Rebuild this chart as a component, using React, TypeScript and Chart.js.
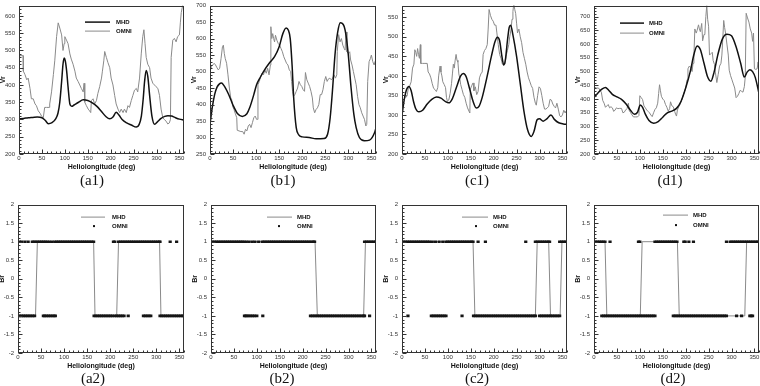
import React, { useEffect, useRef } from 'react';
import { Chart, registerables } from 'chart.js';
Chart.register(...registerables);
Chart.defaults.font.family = "'Liberation Sans', Arial, sans-serif";

// ---------------- tick labels ----------------
const xTickVals = [0, 50, 100, 150, 200, 250, 300, 350];
const vrTicksA1 = [200, 250, 300, 350, 400, 450, 500, 550, 600];
const vrTicksB1 = [250, 300, 350, 400, 450, 500, 550, 600, 650, 700];
const vrTicksC1 = [200, 250, 300, 350, 400, 450, 500, 550];
const vrTicksD1 = [200, 250, 300, 350, 400, 450, 500, 550, 600, 650, 700];
const brTicks = [-2, -1.5, -1, -0.5, 0, 0.5, 1, 1.5, 2];

// ---------------- Vr data: [heliolongitude, Vr] ----------------
const a1Mhd = [[0,302],[10,303],[20,305],[30,306],[40,307],[50,305],[57,298],[64,288],[72,291],[80,302],[85,318],[89,350],[93,410],[96,460],[98.5,478],[101,470],[104,440],[107,395],[111,345],[115,338],[120,342],[130,350],[140,357],[150,355],[160,348],[170,338],[180,323],[190,308],[198,302],[205,307],[212,321],[218,313],[225,300],[235,290],[245,284],[256,278],[262,285],[267,310],[271,360],[274,410],[277.5,442],[281,425],[285,370],[290,310],[296,286],[302,293],[310,303],[318,309],[325,311],[333,310],[340,306],[350,301],[360,298]];
const a1Omni = [[0,485],[9,485],[9.5,440],[13,430],[17,415],[20,420],[24,390],[27,360],[31,360],[35,345],[38,340],[42,325],[46,318],[49,310],[53,305],[56,335],[60,335],[66,335],[67,345],[71,380],[75,430],[78,470],[82,540],[85.5,580],[89,565],[93,545],[96,500],[98.5,520],[100,540],[103.6,530],[107,520],[111,490],[114,475],[118,460],[122,440],[125,420],[129,410],[132.6,400],[136,390],[140,380],[142,405],[143.5,350],[147,340],[151,330],[154,325],[156.5,320],[158,355],[161.6,360],[165,345],[169,355],[172,375],[176,395],[180,420],[182,440],[185,470],[187,497],[190.6,480],[194,465],[198,450],[201,420],[205,400],[208.7,370],[212,345],[216,330],[219.6,320],[223,330],[227,320],[230,330],[234,320],[237.7,340],[241,335],[245,355],[248.5,370],[252,385],[256,390],[259,380],[263,420],[266.7,490],[270,540],[272.5,560],[275,520],[277.5,480],[281,460],[285,450],[288,420],[292,405],[295.6,400],[299,395],[303,390],[306.5,370],[310,330],[313.8,305],[317,300],[321,295],[324.6,287],[328,290],[330.4,300],[332,480],[335.5,530],[339,535],[342.8,525],[346,540],[350,545],[352,580],[354,610],[357,630],[360,650]];

const b1Mhd = [[0,340],[5,392],[10,430],[15,452],[20,462],[25,465],[30,458],[40,432],[50,398],[60,372],[70,364],[80,372],[86,390],[95,430],[101,460],[110,485],[116,500],[130,528],[140,545],[150,575],[158,615],[165,632],[170,625],[174,600],[178,520],[181.5,420],[187,330],[192.5,308],[200,302],[215,300],[230,296],[247,297],[255,310],[260.6,360],[266,450],[271,550],[277,620],[282.6,648],[290,640],[295,610],[300,550],[306,450],[312,370],[317,330],[324,300],[335,290],[346,292],[357,315],[360,330]];
const b1Omni = [[0,500],[3,515],[6,520],[9,525],[12,520],[15,512],[18,505],[21,510],[24,540],[27,575],[29,580],[31,555],[33,540],[36,525],[39,490],[42,450],[45,420],[47,415],[49,395],[52,385],[55,372],[58,360],[59,322],[63,320],[67,318],[71,318],[74,310],[77,325],[80,320],[83,335],[86,340],[89,330],[92,345],[95,360],[98,365],[101,355],[103,355],[104,460],[107,470],[110,485],[113,495],[116,490],[119,505],[122,495],[125,510],[128,490],[131,520],[132,636],[134,600],[136,615],[138,600],[140,590],[142,610],[145,595],[148,585],[151,580],[154,570],[157,560],[160,545],[163,535],[166,525],[169,520],[172,505],[175,500],[177,470],[179,440],[181,425],[184,430],[187,440],[190,450],[193,470],[196,460],[199,455],[202,445],[205,440],[207,497],[210,475],[213,465],[216,455],[219,440],[222,420],[224,390],[227,375],[230,385],[233,390],[236,400],[239,430],[242,430],[245,445],[248,470],[251,485],[254,470],[257,478],[260,480],[263,475],[266,480],[269,490],[272,480],[275,490],[276,560],[279,612],[282,590],[285,600],[288,580],[291,570],[293,565],[295,620],[297,560],[300,555],[303,560],[305,535],[308,520],[311,500],[314,480],[317,460],[320,425],[323,400],[326,390],[329,375],[332,365],[335,355],[338,335],[340,340],[342,470],[345,530],[348,540],[350,550],[353,530],[356,520],[358,530],[360,535]];

const c1Mhd = [[0,300],[5,340],[10,365],[15,373],[20,362],[25,335],[30,316],[37,308],[45,312],[55,328],[65,340],[75,346],[85,343],[95,334],[102,331],[110,342],[120,375],[128,400],[134,406],[140,398],[148,365],[155,335],[162,318],[168,322],[175,345],[185,395],[195,450],[203,488],[208,499],[213,490],[218,450],[222,428],[226,445],[230,490],[234,525],[237,530],[242,505],[250,450],[258,380],[266,310],[274,262],[282,245],[288,258],[295,288],[300,290],[308,284],[316,290],[325,300],[333,288],[342,280],[352,277],[360,276]];
const c1Omni = [[0,350],[4,350],[8,345],[11,348],[14,370],[17,375],[20,385],[23,420],[26,430],[28,467],[30,460],[32,450],[34,470],[36,455],[38,445],[40,480],[41,432],[45,432],[50,432],[55,432],[57,410],[60,405],[63,395],[66,380],[69,368],[72,365],[75,360],[78,370],[80,400],[83,425],[85,410],[87,400],[89,385],[92,378],[95,370],[97,345],[99,335],[102,338],[105,355],[108,380],[110,405],[112,430],[114,420],[116,440],[118,455],[120,440],[122,435],[124,405],[126,395],[128,378],[131,365],[134,352],[137,345],[140,330],[143,318],[146,310],[148,305],[149,365],[152,375],[155,382],[157,362],[160,372],[163,352],[166,360],[169,395],[172,405],[175,410],[177,455],[180,465],[183,470],[186,480],[188,520],[190,570],[193,555],[196,545],[199,540],[202,530],[205,530],[207,510],[210,480],[213,455],[216,445],[219,430],[222,428],[225,430],[227,450],[230,465],[233,480],[235,500],[238,520],[240,545],[242,565],[244,585],[246,570],[248,560],[250,535],[252,510],[255,520],[258,500],[261,485],[264,460],[267,445],[270,430],[273,410],[276,395],[279,385],[282,375],[285,368],[288,345],[291,330],[293,325],[296,350],[299,372],[302,368],[305,350],[308,330],[311,315],[314,315],[317,318],[320,322],[323,340],[326,338],[329,328],[332,322],[335,318],[338,330],[341,315],[344,298],[347,295],[350,300],[353,312],[356,305],[358,310],[360,305]];

const d1Mhd = [[0,405],[10,425],[18,437],[25,442],[32,432],[40,417],[50,408],[60,399],[70,382],[80,358],[88,345],[95,352],[101,378],[106,370],[112,345],[120,322],[130,312],[140,318],[150,334],[160,350],[170,356],[180,366],[190,392],[200,440],[210,500],[218,562],[225,593],[232,580],[240,530],[248,480],[255,465],[262,498],[270,560],[280,618],[290,636],[300,630],[310,590],[320,530],[328,480],[334,498],[340,507],[346,500],[352,478],[360,420]];
const d1Omni = [[0,445],[5,440],[10,440],[13,432],[16,425],[19,395],[22,385],[25,370],[28,375],[31,380],[34,368],[37,372],[40,368],[43,355],[46,360],[49,368],[52,365],[56,366],[60,366],[63,350],[66,352],[69,360],[72,365],[75,385],[77,358],[80,350],[83,342],[86,335],[90,335],[95,335],[98,340],[100,412],[103,405],[106,398],[109,375],[112,368],[115,360],[118,355],[121,350],[124,342],[127,336],[130,350],[133,362],[136,368],[139,385],[141,420],[143,452],[145,430],[147,410],[150,400],[153,395],[156,380],[159,370],[162,356],[165,365],[167,390],[170,375],[173,372],[176,355],[178,345],[180,338],[182,360],[185,372],[188,380],[191,395],[194,410],[197,425],[200,440],[203,470],[205,510],[208,520],[211,515],[214,500],[216,530],[218,560],[220,655],[223,640],[225,650],[228,670],[230,655],[232,645],[235,675],[237,612],[240,635],[242,640],[244,700],[246,740],[248,690],[250,665],[252,560],[255,565],[258,570],[260,540],[263,525],[265,495],[268,460],[271,490],[274,520],[277,530],[279,560],[281,620],[283,686],[285,660],[287,640],[290,600],[293,560],[295,505],[298,485],[301,470],[304,455],[307,440],[310,405],[313,410],[316,420],[319,432],[322,428],[325,425],[328,445],[330,480],[332,712],[335,695],[338,680],[341,655],[344,640],[346,610],[348,640],[350,510],[353,508],[356,510],[358,535],[360,490]];

// ---------------- Br data ----------------
const a2MhdLon = [0, 38, 42, 164, 167, 214, 218, 307, 310, 360];
const a2MhdBr = [-1, -1, 1, 1, -1, -1, 1, 1, -1, -1];
const a2OmniPos = [3,8,15,22,31,35,39,43,47,51,55,59,63,68,74,80,84,88,92,96,100,104,108,112,116,120,124,128,132,136,140,144,148,152,156,160,164,207,210,218,222,226,230,234,238,242,246,250,254,258,262,266,270,274,278,282,286,290,294,298,302,306,308,330,344];
const a2OmniNeg = [0,4,8,12,16,20,24,28,32,36,55,58,62,66,70,74,78,81,165,169,173,177,181,185,189,193,197,201,205,210,214,218,222,226,230,239,272,276,280,284,288,308,312,316,320,324,328,332,336,340,344,348,352,356,359];

const b2MhdLon = [0, 227, 232, 333, 337, 360];
const b2MhdBr = [1, 1, -1, -1, 1, 1];
const b2OmniPos = [0,4,8,12,16,20,24,28,32,36,40,44,48,52,56,60,64,68,72,77,83,90,96,104,112,116,120,124,128,132,136,140,144,148,152,156,160,164,168,172,176,180,184,188,192,196,200,204,208,212,216,220,224,226,335,339,343,347,351,355,359];
const b2OmniNeg = [73,76,79,83,87,91,95,100,113,217,221,225,229,233,237,241,245,249,253,257,261,265,269,273,277,281,285,289,293,297,301,305,309,313,317,321,325,329,333,335,346];

const c2MhdLon = [0, 155, 159, 291, 295, 320, 324, 345, 349, 360];
const c2MhdBr = [1, 1, -1, -1, 1, 1, -1, -1, 1, 1];
const c2OmniPos = [0,4,8,12,16,20,24,28,32,36,40,44,48,52,56,60,66,73,81,89,96,100,104,108,112,116,120,124,128,132,136,140,144,148,152,155,166,182,270,291,295,299,303,307,311,315,319,322,344,348,352,356,360];
const c2OmniNeg = [13,64,68,72,76,80,84,88,92,96,131,156,160,164,168,172,176,180,184,188,192,196,200,204,208,212,216,220,224,228,232,236,240,244,248,252,256,260,264,268,272,276,280,284,288,291,300,304,308,312,316,320,324,328,332,336,340,344];

const d2MhdLon = [0, 24, 28, 101, 105, 182, 186, 329, 333, 360];
const d2MhdBr = [1, 1, -1, -1, 1, 1, -1, -1, 1, 1];
const d2OmniPos = [0,4,8,12,16,20,24,35,97,100,133,137,141,145,149,153,157,161,165,169,173,177,181,196,199,207,217,289,297,301,305,309,313,317,321,325,329,333,337,341,345,349,353,357,360];
const d2OmniNeg = [17,21,25,29,33,37,41,45,49,53,57,61,65,69,73,77,81,85,89,93,97,101,105,109,113,117,121,125,129,133,173,177,181,185,189,193,197,201,205,209,213,217,221,225,229,233,237,241,245,249,253,257,261,265,269,273,277,281,285,289,311,322,340,343,346];

// ---------------- layout ----------------
type Legend = { lx1: number; lx2: number; tx: number; y1: number; y2: number; dotX?: number };
type Spec = {
  id: string; kind: 'vr' | 'br';
  left: number; top: number; width: number;
  yMin: number; yMax: number; yTicks: number[]; yMajor: number; yMinor: number;
  datasets: any[];
  legend?: Legend;
  label: string; labelX: number; labelY: number;
};

const PLOT_H = 151;
const Y_AXIS_W = 20;
const X_AXIS_H = 17;
const PAD_T = 5;
const PAD_R = 4;

function vrSets(mhd: number[][], omni: number[][]) {
  return [
    { label: 'MHD', data: mhd.map(([x, y]) => ({ x, y })), borderColor: '#111', borderWidth: 1.5, pointRadius: 0, cubicInterpolationMode: 'monotone', fill: false },
    { label: 'OMNI', data: omni.map(([x, y]) => ({ x, y })), borderColor: '#8a8a8a', borderWidth: 1, pointRadius: 0, tension: 0, fill: false },
  ];
}
function brSets(lon: number[], br: number[], pos: number[], neg: number[]) {
  const dots = [...pos.map((x) => ({ x, y: 1 })), ...neg.map((x) => ({ x, y: -1 }))];
  return [
    { label: 'OMNI', data: dots, showLine: false, pointRadius: 1.6, pointStyle: 'line', pointBorderWidth: 2.6, pointBorderColor: '#151515', pointBackgroundColor: '#151515', borderColor: '#151515' },
    { label: 'MHD', data: lon.map((x, i) => ({ x, y: br[i] })), borderColor: '#8a8a8a', borderWidth: 1, pointRadius: 0, tension: 0, fill: false },
  ];
}

const specs: Spec[] = [
  { id: 'a1', kind: 'vr', left: 19, top: 3, width: 165, yMin: 200, yMax: 630, yTicks: vrTicksA1, yMajor: 50, yMinor: 10, datasets: vrSets(a1Mhd, a1Omni), legend: { lx1: 66, lx2: 91, tx: 97, y1: 16, y2: 25 }, label: '(a1)', labelX: 92, labelY: 180 },
  { id: 'b1', kind: 'vr', left: 210, top: 3, width: 166, yMin: 250, yMax: 700, yTicks: vrTicksB1, yMajor: 50, yMinor: 10, datasets: vrSets(b1Mhd, b1Omni), label: '(b1)', labelX: 283, labelY: 180 },
  { id: 'c1', kind: 'vr', left: 402, top: 3, width: 165, yMin: 200, yMax: 580, yTicks: vrTicksC1, yMajor: 50, yMinor: 10, datasets: vrSets(c1Mhd, c1Omni), label: '(c1)', labelX: 477, labelY: 180 },
  { id: 'd1', kind: 'vr', left: 594, top: 3, width: 165, yMin: 200, yMax: 740, yTicks: vrTicksD1, yMajor: 50, yMinor: 10, datasets: vrSets(d1Mhd, d1Omni), legend: { lx1: 26, lx2: 50, tx: 55, y1: 17, y2: 27 }, label: '(d1)', labelX: 670, labelY: 180 },
  { id: 'a2', kind: 'br', left: 18, top: 202, width: 166, yMin: -2, yMax: 2, yTicks: brTicks, yMajor: 0.5, yMinor: 0.1, datasets: brSets(a2MhdLon, a2MhdBr, a2OmniPos, a2OmniNeg), legend: { lx1: 63, lx2: 87, tx: 94, y1: 12, y2: 21, dotX: 76 }, label: '(a2)', labelX: 93, labelY: 378 },
  { id: 'b2', kind: 'br', left: 211, top: 202, width: 165, yMin: -2, yMax: 2, yTicks: brTicks, yMajor: 0.5, yMinor: 0.1, datasets: brSets(b2MhdLon, b2MhdBr, b2OmniPos, b2OmniNeg), legend: { lx1: 56, lx2: 81, tx: 86, y1: 12, y2: 21, dotX: 68 }, label: '(b2)', labelX: 282, labelY: 378 },
  { id: 'c2', kind: 'br', left: 402, top: 202, width: 165, yMin: -2, yMax: 2, yTicks: brTicks, yMajor: 0.5, yMinor: 0.1, datasets: brSets(c2MhdLon, c2MhdBr, c2OmniPos, c2OmniNeg), legend: { lx1: 60, lx2: 86, tx: 91, y1: 12, y2: 21, dotX: 74 }, label: '(c2)', labelX: 477, labelY: 378 },
  { id: 'd2', kind: 'br', left: 594, top: 202, width: 165, yMin: -2, yMax: 2, yTicks: brTicks, yMajor: 0.5, yMinor: 0.1, datasets: brSets(d2MhdLon, d2MhdBr, d2OmniPos, d2OmniNeg), legend: { lx1: 69, lx2: 94, tx: 99, y1: 10, y2: 20, dotX: 82 }, label: '(d2)', labelX: 673, labelY: 378 },
];

function makeFrame(spec: Spec) {
  return {
    id: 'frame_' + spec.id,
    afterDraw(chart: any) {
      const { ctx, chartArea: a } = chart;
      const xs = chart.scales.x;
      const ys = chart.scales.y;
      ctx.save();
      const L = Math.round(a.left) + 0.5;
      const R = Math.round(a.right) - 0.5;
      const T = Math.round(a.top) + 0.5;
      const B = Math.round(a.bottom) - 0.5;
      ctx.strokeStyle = '#333';
      ctx.lineWidth = 1;
      ctx.beginPath();
      for (let v = 0; v <= 360; v += 10) {
        const px = Math.round(xs.getPixelForValue(v)) + 0.5;
        const len = v % 50 === 0 ? 4 : 2;
        ctx.moveTo(px, B);
        ctx.lineTo(px, B - len);
      }
      const n = Math.round((spec.yMax - spec.yMin) / spec.yMinor);
      for (let i = 0; i <= n; i++) {
        const v = spec.yMin + i * spec.yMinor;
        const r = v / spec.yMajor;
        const major = Math.abs(r - Math.round(r)) < 1e-6;
        const py = Math.round(ys.getPixelForValue(v)) + 0.5;
        ctx.moveTo(L, py);
        ctx.lineTo(L + (major ? 4 : 2), py);
      }
      ctx.stroke();
      ctx.strokeRect(L, T, R - L, B - T);

      const lg = spec.legend;
      if (lg) {
        const x0 = a.left;
        const y0 = a.top;
        ctx.font = "bold 6px 'Liberation Sans', Arial, sans-serif";
        ctx.fillStyle = '#111';
        ctx.textBaseline = 'middle';
        ctx.textAlign = 'left';
        const mhd = spec.datasets.find((d) => d.label === 'MHD');
        ctx.strokeStyle = mhd.borderColor;
        ctx.lineWidth = mhd.borderWidth;
        ctx.beginPath();
        ctx.moveTo(x0 + lg.lx1, y0 + lg.y1 + 0.5);
        ctx.lineTo(x0 + lg.lx2, y0 + lg.y1 + 0.5);
        ctx.stroke();
        ctx.fillText('MHD', x0 + lg.tx, y0 + lg.y1 + 0.5);
        if (spec.kind === 'vr') {
          const om = spec.datasets.find((d) => d.label === 'OMNI');
          ctx.strokeStyle = om.borderColor;
          ctx.lineWidth = om.borderWidth;
          ctx.beginPath();
          ctx.moveTo(x0 + lg.lx1, y0 + lg.y2 + 0.5);
          ctx.lineTo(x0 + lg.lx2, y0 + lg.y2 + 0.5);
          ctx.stroke();
        } else {
          ctx.fillRect(x0 + (lg.dotX || 0) - 1, y0 + lg.y2 - 0.5, 2, 2);
        }
        ctx.fillText('OMNI', x0 + lg.tx, y0 + lg.y2 + 0.5);
      }
      ctx.restore();
    },
  };
}

function buildConfig(spec: Spec): any {
  const tickFont = { size: 6 };
  return {
    type: 'line',
    data: { datasets: spec.datasets },
    plugins: [makeFrame(spec)],
    options: {
      responsive: false,
      animation: false,
      devicePixelRatio: 1,
      parsing: true,
      layout: { autoPadding: false, padding: { top: PAD_T, right: PAD_R, left: 0, bottom: 0 } },
      plugins: { legend: { display: false }, tooltip: { enabled: false }, title: { display: false } },
      scales: {
        x: {
          type: 'linear', min: 0, max: 360,
          grid: { display: false, drawTicks: false },
          border: { display: false },
          ticks: { font: tickFont, color: '#333', padding: 1, maxRotation: 0, autoSkip: false, callback: (v: number) => String(v) },
          afterBuildTicks: (s: any) => { s.ticks = xTickVals.map((v) => ({ value: v })); },
          afterFit: (s: any) => { s.height = X_AXIS_H; },
          title: { display: true, text: 'Heliolongitude (deg)', font: { size: 7, weight: 'bold' }, color: '#111', padding: { top: 0, bottom: 0 } },
        },
        y: {
          type: 'linear', min: spec.yMin, max: spec.yMax,
          grid: { display: false, drawTicks: false },
          border: { display: false },
          ticks: { font: tickFont, color: '#333', padding: 4, autoSkip: false, callback: (v: number) => String(v) },
          afterBuildTicks: (s: any) => { s.ticks = spec.yTicks.map((v) => ({ value: v })); },
          afterFit: (s: any) => { s.width = Y_AXIS_W; },
          title: { display: true, text: spec.kind === 'vr' ? 'Vr' : 'Br', font: { size: 7, weight: 'bold' }, color: '#111', padding: { top: 0, bottom: 0 } },
        },
      },
    },
  };
}

function Panel({ spec }: { spec: Spec }) {
  const ref = useRef<HTMLCanvasElement>(null);
  const w = Y_AXIS_W + spec.width + PAD_R;
  const h = PAD_T + PLOT_H + X_AXIS_H;
  useEffect(() => {
    const chart = new Chart(ref.current as HTMLCanvasElement, buildConfig(spec));
    return () => chart.destroy();
  }, [spec]);
  return (
    <canvas
      ref={ref}
      width={w}
      height={h}
      style={{ position: 'absolute', left: spec.left - Y_AXIS_W, top: spec.top - PAD_T, width: w, height: h }}
    />
  );
}

export default function App() {
  return (
    <div style={{ position: 'absolute', left: 0, top: 0, width: 760, height: 386, overflow: 'hidden', background: '#fff' }}>
      {specs.map((s) => (
        <Panel key={s.id} spec={s} />
      ))}
      {specs.map((s) => (
        <div
          key={'lbl' + s.id}
          style={{
            position: 'absolute', left: s.labelX - 30, width: 60, top: s.labelY - 10, height: 20,
            lineHeight: '20px', textAlign: 'center', fontFamily: "'Liberation Serif', 'DejaVu Serif', serif",
            fontSize: 15, color: '#111',
          }}
        >
          {s.label}
        </div>
      ))}
    </div>
  );
}
